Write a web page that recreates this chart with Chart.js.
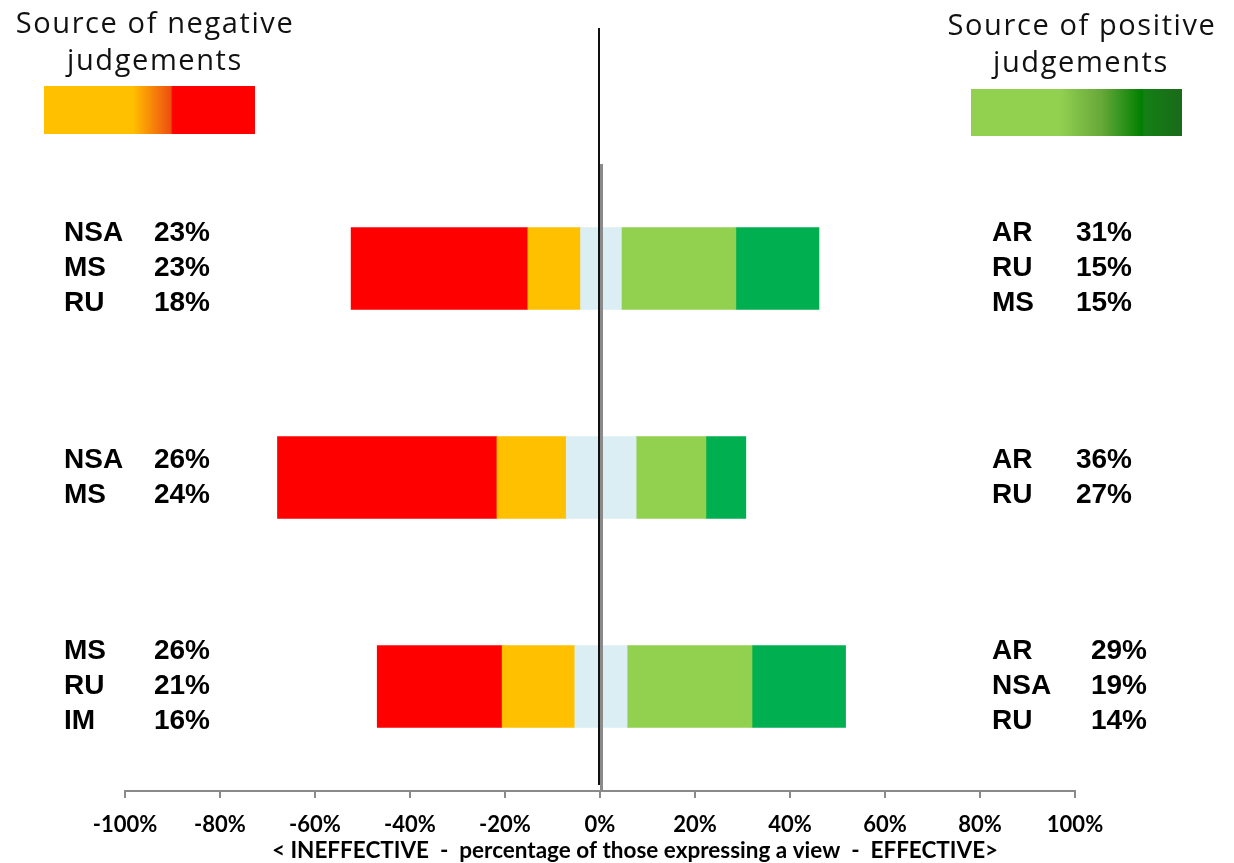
<!DOCTYPE html>
<html>
<head>
<meta charset="utf-8">
<script src="https://cdn.jsdelivr.net/npm/chart.js@4/dist/chart.umd.min.js"></script>
<style>
  body { margin: 0; background: #fff; }
  #wrap { width: 1234px; height: 863px; position: relative; }
</style>
</head>
<body>
<div id="wrap"><canvas id="judgements"></canvas></div>
<script>
// rows from top to bottom (no labels shown on the original)
const rowNames = ['Row 1', 'Row 2', 'Row 3'];

// negative side, stacked outwards from 0
const neutralNeg = [-4.1, -7.1, -5.3];
const orangeValues = [-11.1, -14.6, -15.3];
const redValues = [-37.2, -46.2, -26.3];

// positive side, stacked outwards from 0
const neutralPos = [4.5, 7.6, 5.7];
const lightGreenValues = [24.1, 14.7, 26.3];
const greenValues = [17.5, 8.4, 19.7];

// side labels per row
const leftCodes = [['NSA', 'MS', 'RU'], ['NSA', 'MS'], ['MS', 'RU', 'IM']];
const leftPcts = [['23%', '23%', '18%'], ['26%', '24%'], ['26%', '21%', '16%']];
const rightCodes = [['AR', 'RU', 'MS'], ['AR', 'RU'], ['AR', 'NSA', 'RU']];
const rightPcts = [['31%', '15%', '15%'], ['36%', '27%'], ['29%', '19%', '14%']];

const axisTitle = '< INEFFECTIVE  -  percentage of those expressing a view  -  EFFECTIVE>';

const labelFont = 'bold 28px "Liberation Sans", Arial, sans-serif';
const headFont = '29px "Open Sans", sans-serif';
const axisFont = 'Lato, "Open Sans", sans-serif';

const sideLabels = {
    id: 'sideLabels',
    afterDraw(chart) {
        const ctx = chart.ctx;
        const y = chart.scales.y;
        const x = chart.scales.x;
        const area = chart.chartArea;
        ctx.save();

        // headers
        ctx.fillStyle = '#111';
        ctx.font = headFont;
        ctx.letterSpacing = '1.6px';
        ctx.textAlign = 'center';
        ctx.textBaseline = 'alphabetic';
        ctx.fillText('Source of negative', 155, 33);
        ctx.fillText('judgements', 155, 70);
        ctx.fillText('Source of positive', 1082, 35);
        ctx.fillText('judgements', 1081, 72);
        ctx.letterSpacing = '0px';

        // gradient keys
        let g = ctx.createLinearGradient(44, 0, 255, 0);
        g.addColorStop(0, '#FFC000');
        g.addColorStop(0.42, '#FFC000');
        g.addColorStop(0.6, '#EE5010');
        g.addColorStop(0.61, '#FF0000');
        g.addColorStop(1, '#FF0000');
        ctx.fillStyle = g;
        ctx.fillRect(44, 86, 211, 48);

        g = ctx.createLinearGradient(971, 0, 1182, 0);
        g.addColorStop(0, '#92D050');
        g.addColorStop(0.42, '#92D050');
        g.addColorStop(0.62, '#66A83A');
        g.addColorStop(0.81, '#008000');
        g.addColorStop(0.82, '#148014');
        g.addColorStop(1, '#1A6A1A');
        ctx.fillStyle = g;
        ctx.fillRect(971, 89, 211, 47);

        // zero lines
        const zx = x.getPixelForValue(0);
        ctx.fillStyle = '#8a8a8a';
        ctx.fillRect(zx, area.top, 3, area.bottom - area.top);
        ctx.fillStyle = '#111';
        ctx.fillRect(zx - 2, 28, 2, 757);

        // axis caption, sits a little right of centre on the original
        ctx.font = 'bold 22.5px ' + axisFont;
        ctx.fillStyle = '#000';
        ctx.textAlign = 'center';
        ctx.textBaseline = 'middle';
        ctx.fillText(axisTitle, 635, 851);

        // row labels
        ctx.font = labelFont;
        const gap = 35;
        const rightEnd = [1132, 1132, 1147];
        rowNames.forEach((name, i) => {
            const cy = y.getPixelForValue(i);
            leftCodes[i].forEach((code, j) => {
                const ly = cy + (j - (leftCodes[i].length - 1) / 2) * gap;
                ctx.textAlign = 'left';
                ctx.fillText(code, 64, ly);
                ctx.textAlign = 'right';
                ctx.fillText(leftPcts[i][j], 210, ly);
            });
            rightCodes[i].forEach((code, j) => {
                const ry = cy + (j - (rightCodes[i].length - 1) / 2) * gap;
                ctx.textAlign = 'left';
                ctx.fillText(code, 992, ry);
                ctx.textAlign = 'right';
                ctx.fillText(rightPcts[i][j], rightEnd[i], ry);
            });
        });
        ctx.restore();
    }
};

const bar = (label, data, color) => ({
    label: label,
    data: data,
    backgroundColor: color,
    borderWidth: 0,
    stack: 'all',
    barThickness: 82
});

const config = {
    type: 'bar',
    data: {
        labels: rowNames,
        datasets: [
            bar('Neutral (neg)', neutralNeg, '#DAEEF3'),
            bar('Negative', orangeValues, '#FFC000'),
            bar('Very negative', redValues, '#FF0000'),
            bar('Neutral (pos)', neutralPos, '#DAEEF3'),
            bar('Positive', lightGreenValues, '#92D050'),
            bar('Very positive', greenValues, '#00B050')
        ]
    },
    options: {
        indexAxis: 'y',
        responsive: true,
        maintainAspectRatio: false,
        animation: false,
        layout: { padding: { left: 125, right: 159, top: 164, bottom: 11 } },
        scales: {
            x: {
                stacked: true,
                min: -100,
                max: 100,
                ticks: {
                    stepSize: 20,
                    color: '#000',
                    padding: 16,
                    font: { family: axisFont, size: 22, weight: 'bold', lineHeight: 1 },
                    callback: v => v + '%'
                },
                grid: { drawOnChartArea: false, drawTicks: true, tickLength: 7, color: '#8a8a8a', lineWidth: 2 },
                border: { display: true, color: '#8a8a8a', width: 2 }
            },
            y: {
                stacked: true,
                display: false
            }
        },
        plugins: {
            legend: { display: false },
            tooltip: { enabled: false }
        }
    },
    plugins: [sideLabels]
};

new Chart(document.getElementById('judgements'), config);
</script>
</body>
</html>
